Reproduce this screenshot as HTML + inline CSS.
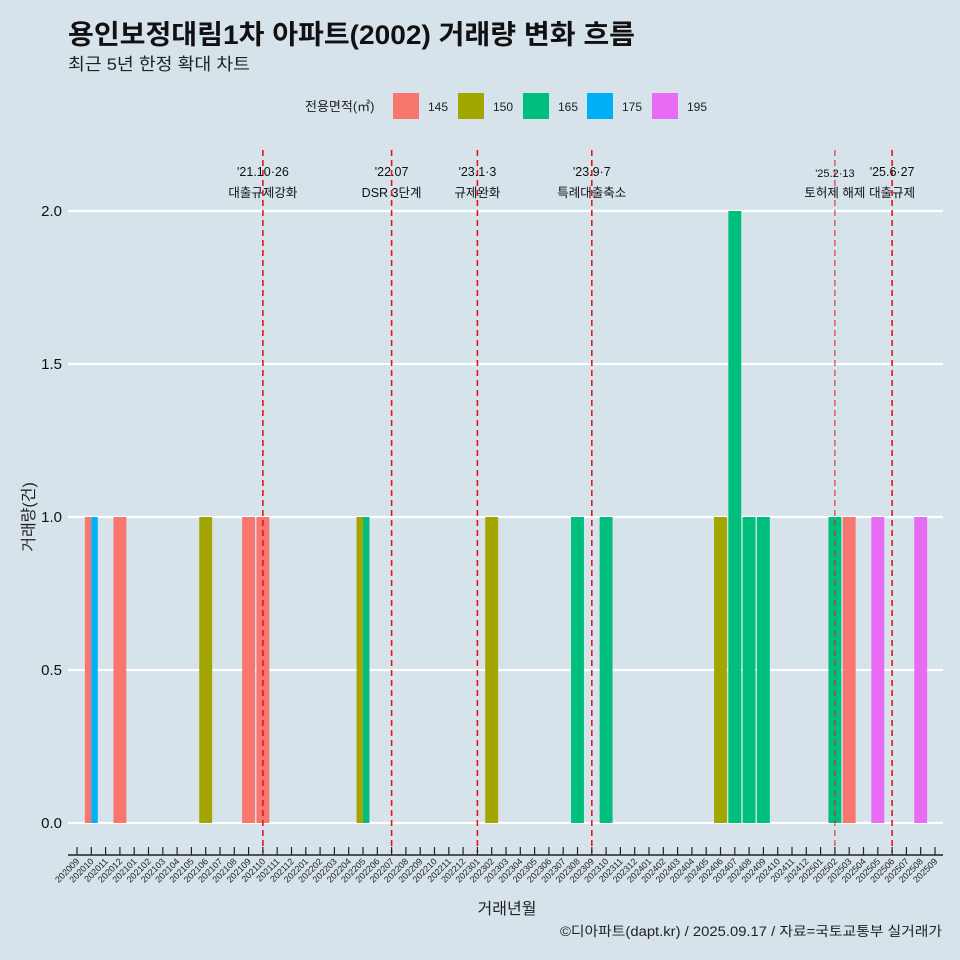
<!DOCTYPE html>
<html><head><meta charset="utf-8"><style>
html,body{margin:0;padding:0;background:#d6e3ea;overflow:hidden;width:960px;height:960px;}
svg{display:block;}
svg text{font-family:"Liberation Sans","Noto Sans CJK KR",sans-serif;}
</style></head><body>
<svg id="c" width="960" height="960" xmlns="http://www.w3.org/2000/svg">
<rect width="960" height="960" fill="#d6e3ea"/>
<text x="68" y="44" font-size="27" font-weight="bold" fill="#111" textLength="567" lengthAdjust="spacingAndGlyphs">용인보정대림1차 아파트(2002) 거래량 변화 흐름</text>
<text x="68" y="70" font-size="17" fill="#222" textLength="182" lengthAdjust="spacingAndGlyphs">최근 5년 한정 확대 차트</text>
<g id="legend"><text x="305" y="111" font-size="13" fill="#222">전용면적(㎡)</text></g>
<g id="grid"></g><g id="bars"></g><g id="events"></g><g id="axes"></g>
<text x="507" y="914" font-size="16" text-anchor="middle" fill="#222">거래년월</text>
<text transform="translate(34,517) rotate(-90)" font-size="16" text-anchor="middle" fill="#222">거래량(건)</text>
<text x="942" y="936" font-size="13.5" text-anchor="end" fill="#222" textLength="382" lengthAdjust="spacingAndGlyphs">©디아파트(dapt.kr) / 2025.09.17 / 자료=국토교통부 실거래가</text>
</svg>
<script>
const months=[];for(let y=2020;y<=2025;y++)for(let m=1;m<=12;m++){const k=y*100+m;if(k>=202009&&k<=202509)months.push(String(k));}
const sizes=["145","150","165","175","195"];
const colors=["#f8766d","#a3a500","#00bf7d","#00b0f6","#e76bf3"];
const barMonths=["202010","202010","202012","202106","202109","202110","202205","202205","202302","202308","202310","202406","202407","202408","202409","202502","202503","202505","202508"];
const barSizes=["145","175","145","150","145","145","150","165","150","165","165","150","165","165","165","165","145","195","195"];
const barValues=[1,1,1,1,1,1,1,1,1,1,1,1,2,1,1,1,1,1,1];
const yTicks=[0,0.5,1,1.5,2];
const eventMonths=["202110","202207","202301","202309","202502","202506"];
const eventDates=["'21.10·26","'22.07","'23.1·3","'23.9·7","'25.2·13","'25.6·27"];
const eventNames=["대출규제강화","DSR 3단계","규제완화","특례대출축소","토허제 해제","대출규제"];
const NS="http://www.w3.org/2000/svg";
function el(t,a,p){const e=document.createElementNS(NS,t);for(const k in a)e.setAttribute(k,a[k]);p.appendChild(e);return e;}
const x0=77,x1=935,bw=12.9;
const xs=i=>x0+i*(x1-x0)/(months.length-1);
const ys=v=>823-v*306;
const G=document.getElementById('grid'),B=document.getElementById('bars'),E=document.getElementById('events'),A=document.getElementById('axes'),L=document.getElementById('legend');
yTicks.forEach(v=>{
 const l=el('line',{x1:68,x2:943,y1:ys(v),y2:ys(v),stroke:'#fff','stroke-width':2.2},G);
 
 
 const t=el('text',{x:62,y:ys(v)+5,'font-size':15,'text-anchor':'end',fill:'#111'},A);t.textContent=v.toFixed(1);
 
 
});
const groups={};barMonths.forEach((m,i)=>{(groups[m]=groups[m]||[]).push(i);});
for(const m in groups){
 const idx=groups[m];const n=idx.length;const w=bw/n;const cx=xs(months.indexOf(m));
 idx.forEach((i,j)=>{
  const xl=cx-bw/2+j*w;
  const r=el('rect',{x:xl,y:ys(barValues[i]),width:w,height:ys(0)-ys(barValues[i]),fill:colors[sizes.indexOf(barSizes[i])]},B);
  
  
 });
}
eventMonths.forEach((m,i)=>{
 const x=xs(months.indexOf(m));
 const small=m==="202502";
 const l=el('line',{x1:x,x2:x,y1:150,y2:852,stroke:'#e8141c','stroke-width':small?1:1.6,'stroke-dasharray':'6,4'},E);
 
 
 const t1=el('text',{x:x,y:small?177:176,'font-size':small?11:12.5,'text-anchor':'middle',fill:'#111'},E);t1.textContent=eventDates[i];
 
 
 const t2=el('text',{x:x,y:197,'font-size':12.5,'text-anchor':'middle',fill:'#111'},E);t2.textContent=eventNames[i];
 
 
});
const ax=el('line',{x1:68,x2:943,y1:855,y2:855,stroke:'#222','stroke-width':1.5},A);


months.forEach((m,i)=>{
 const x=xs(i);
 const tk=el('line',{x1:x,x2:x,y1:847,y2:855,stroke:'#222','stroke-width':1.2},A);
 
 
 const t=el('text',{'font-size':9,'text-anchor':'end',fill:'#222',transform:`translate(${x+3},${862}) rotate(-45)`},A);t.textContent=m;
 
 
});
const lx=[393,458,523,587,652];
sizes.forEach((s,i)=>{
 const r=el('rect',{x:lx[i],y:93,width:26,height:26,fill:colors[i]},L);
 
 
 const t=el('text',{x:lx[i]+35,y:111,'font-size':12,fill:'#222'},L);t.textContent=s;
 
 
});
</script>
</body></html>
